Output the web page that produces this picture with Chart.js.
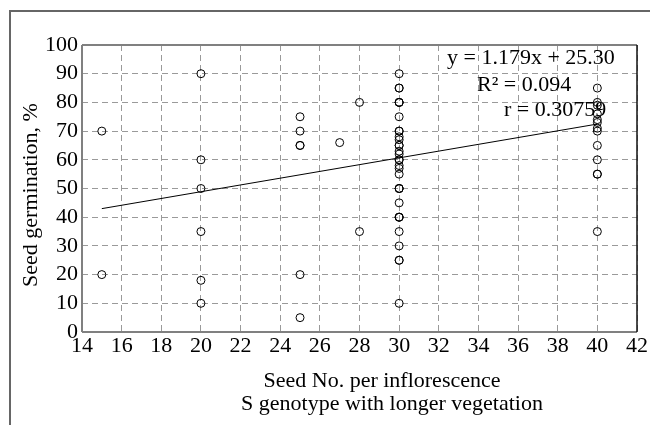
<!DOCTYPE html>
<html>
<head>
<meta charset="utf-8">
<script src="https://cdn.jsdelivr.net/npm/chart.js@4.4.1/dist/chart.umd.min.js"></script>
<style>
  html, body { margin: 0; padding: 0; background: #fff; }
  #wrap { width: 650px; height: 425px; }
</style>
</head>
<body>
<div id="wrap"><canvas id="chart" width="650" height="425"></canvas></div>
<script>
// seed number per inflorescence and germination %
const seedNo = [
  15, 15,
  20, 20, 20, 20, 20, 20,
  25, 25, 25, 25, 25, 25,
  27,
  28, 28,
  30, 30, 30, 30, 30, 30, 30, 30, 30, 30, 30, 30, 30, 30, 30, 30,
  30, 30, 30, 30, 30, 30, 30, 30, 30, 30, 30, 30, 30, 30, 30, 30,
  40, 40, 40, 40, 40, 40, 40, 40, 40, 40, 40, 40, 40
];
const germination = [
  70, 20,
  90, 60, 50, 35, 18, 10,
  75, 70, 65, 65, 20, 5,
  66,
  80, 35,
  90, 85, 85, 80, 80, 80, 75, 70, 70, 68, 67, 65, 65, 63, 62, 60,
  60, 58, 57, 55, 50, 50, 50, 45, 40, 40, 40, 35, 30, 25, 25, 10,
  85, 80, 79, 76, 74, 73, 71, 70, 65, 60, 55, 55, 35
];
const xTicks = [14, 16, 18, 20, 22, 24, 26, 28, 30, 32, 34, 36, 38, 40, 42];
const yTicks = [0, 10, 20, 30, 40, 50, 60, 70, 80, 90, 100];
const slope = 1.179, intercept = 25.30;
const trendX = [15, 40];
const eqLines = ['y = 1.179x + 25.30', 'R\u00b2 = 0.094', 'r = 0.30759'];
const xTitle = ['Seed No. per inflorescence', 'S genotype with longer vegetation'];
const yTitle = 'Seed germination, %';

const FONT = '"Liberation Serif", "DejaVu Serif", serif';

const points = seedNo.map((x, i) => ({ x: x, y: germination[i] }));
const trend = trendX.map(x => ({ x: x, y: slope * x + intercept }));

const frame = {
  id: 'frame',
  beforeDraw(chart) {
    const c = chart.ctx;
    c.save();
    c.fillStyle = '#fff';
    c.fillRect(0, 0, chart.width, chart.height);
    // outer frame
    c.strokeStyle = '#666';
    c.lineWidth = 2;
    c.beginPath();
    c.moveTo(10, chart.height);
    c.lineTo(10, 11);
    c.lineTo(chart.width, 11);
    c.stroke();
    c.restore();
  },
  afterDraw(chart) {
    const c = chart.ctx;
    const a = chart.chartArea;
    c.save();
    c.lineWidth = 2;
    c.strokeStyle = '#808080';
    c.beginPath();
    c.moveTo(a.left, a.top); c.lineTo(a.right, a.top);
    c.moveTo(a.left, a.top); c.lineTo(a.left, a.bottom);
    c.moveTo(a.left, a.bottom); c.lineTo(a.right, a.bottom);
    c.stroke();
    c.strokeStyle = '#111';
    c.lineWidth = 1.5;
    c.beginPath();
    c.moveTo(a.right, a.top); c.lineTo(a.right, a.bottom);
    c.stroke();

    c.fillStyle = '#000';
    c.font = '22px ' + FONT;
    c.textBaseline = 'middle';
    c.textAlign = 'left';
    c.fillText(eqLines[0], 447, 58);
    c.fillText(eqLines[1], 477, 85);
    c.fillText(eqLines[2], 504, 110);

    c.textAlign = 'center';
    c.fillText(xTitle[0], 382, 381);
    c.fillText(xTitle[1], 392, 404);

    c.translate(31, 195);
    c.rotate(-Math.PI / 2);
    c.fillText(yTitle, 0, 0);
    c.restore();
  }
};

new Chart(document.getElementById('chart'), {
  type: 'scatter',
  data: {
    datasets: [
      {
        label: 'data',
        data: points,
        pointStyle: 'circle',
        pointRadius: 4,
        pointBorderWidth: 1,
        pointBorderColor: '#000',
        pointBackgroundColor: 'rgba(0,0,0,0)'
      },
      {
        type: 'line',
        label: 'trend',
        data: trend,
        borderColor: '#000',
        borderWidth: 1,
        pointRadius: 0,
        fill: false
      }
    ]
  },
  plugins: [frame],
  options: {
    responsive: false,
    animation: false,
    devicePixelRatio: 1,
    layout: { padding: { left: 0, right: 13, top: 45, bottom: 0 } },
    plugins: { legend: { display: false }, tooltip: { enabled: false } },
    scales: {
      x: {
        type: 'linear',
        min: 14, max: 42,
        afterFit(s) { s.height = 93; },
        afterBuildTicks(s) { s.ticks = xTicks.map(v => ({ value: v })); },
        grid: { color: '#9a9a9a', lineWidth: 1, drawTicks: false },
        border: { display: false, dash: [6, 4] },
        ticks: { color: '#000', padding: 1, maxRotation: 0, autoSkip: false, font: { family: FONT, size: 22 } }
      },
      y: {
        min: 0, max: 100,
        afterFit(s) { s.width = 82; },
        afterBuildTicks(s) { s.ticks = yTicks.map(v => ({ value: v })); },
        grid: { color: '#9a9a9a', lineWidth: 1, drawTicks: false },
        border: { display: false, dash: [6, 4] },
        ticks: { color: '#000', padding: 4, autoSkip: false, font: { family: FONT, size: 22 } }
      }
    }
  }
});
</script>
</body>
</html>
